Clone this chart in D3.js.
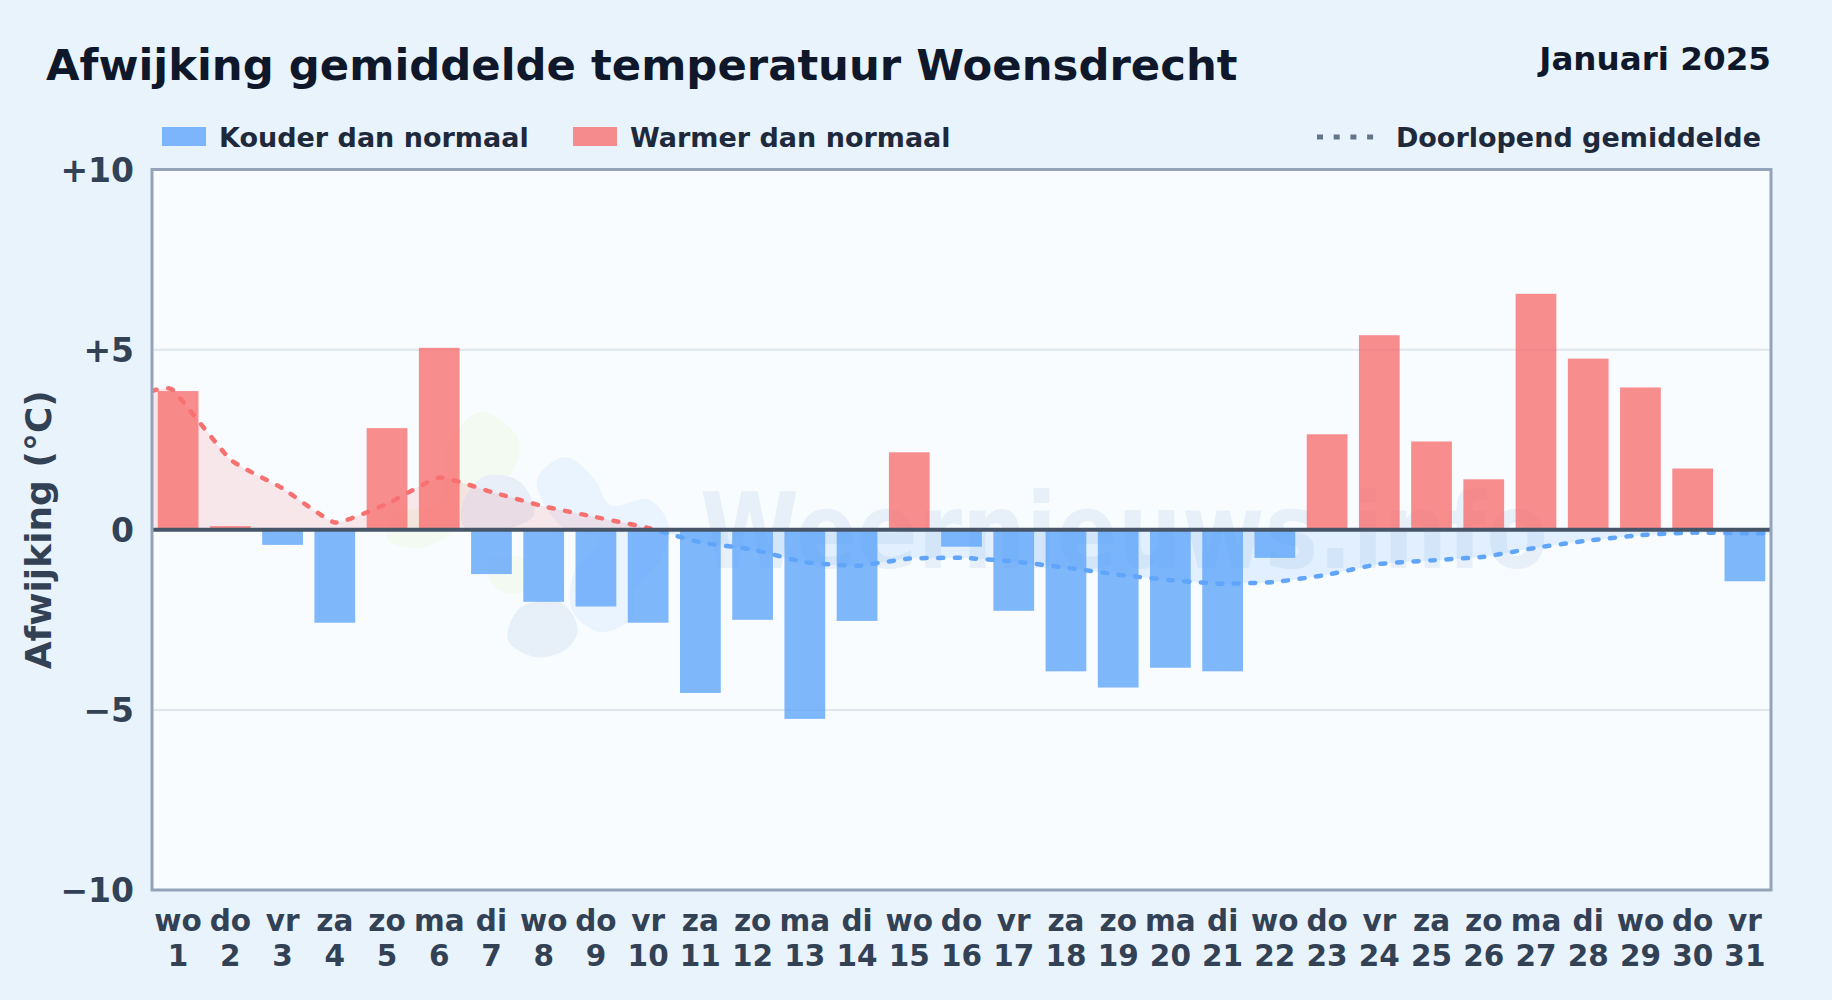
<!DOCTYPE html>
<html>
<head>
<meta charset="utf-8">
<script src="https://cdn.jsdelivr.net/npm/d3@7"></script>
<style>
  html, body { margin: 0; padding: 0; background: #e8f3fc; overflow: hidden; }
  text { font-family: "DejaVu Sans", sans-serif; font-weight: 700; }
</style>
</head>
<body>
<svg id="chart" width="1832" height="1000"></svg>
<script>
const days = d3.range(1, 32);
const weekdays = ['wo','do','vr','za','zo','ma','di','wo','do','vr','za','zo','ma','di','wo','do','vr','za','zo','ma','di','wo','do','vr','za','zo','ma','di','wo','do','vr'];
const deviations = [3.85,0.1,-0.42,-2.58,2.82,5.05,-1.23,-2.0,-2.13,-2.58,-4.53,-2.5,-5.25,-2.53,2.15,-0.47,-2.25,-3.93,-4.38,-3.83,-3.93,-0.78,2.65,5.4,2.45,1.4,6.55,4.75,3.95,1.7,-1.43];
const avgDays = [0.5,0.9,2,3,4,5,6,7,8,9,10,11,12,13,14,15,16,17,18,19,20,21,22,23,24,25,26,27,28,29,30,31,31.5];
const avgValues = [3.85,3.88,1.95,1.15,0.2,0.72,1.45,1.05,0.65,0.35,0.05,-0.35,-0.55,-0.9,-1.0,-0.8,-0.78,-0.88,-1.05,-1.25,-1.4,-1.5,-1.45,-1.25,-0.95,-0.85,-0.75,-0.5,-0.3,-0.15,-0.08,-0.1,-0.1];
const yTicks = [-10,-5,0,5,10];
const yLabels = ['−10','−5','0','+5','+10'];

const margin = { left: 152, right: 1771, top: 169.5, bottom: 890 };
const red = '#f87171';
const blue = '#60a5fa';

const svg = d3.select('#chart');
const defs = svg.append('defs');

const x = d3.scaleBand().domain(days).range([margin.left, margin.right]).paddingInner(0.22).paddingOuter(0.11);
const xLine = d3.scaleLinear().domain([0.5, 31.5]).range([margin.left, margin.right]);
const y = d3.scaleLinear().domain([-10, 10]).range([margin.bottom, margin.top]);

// page and plot background
svg.append('rect').attr('width', 1832).attr('height', 1000).attr('fill', '#e8f3fc');
svg.append('rect')
  .attr('x', margin.left).attr('y', margin.top)
  .attr('width', margin.right - margin.left).attr('height', margin.bottom - margin.top)
  .attr('fill', '#f8fcff');

// watermark
const mark = svg.append('g');
const blob = d3.line().curve(d3.curveCatmullRomClosed);
mark.append('path')
  .attr('d', blob([[446,450],[480,412],[518,438],[512,472],[470,495],[455,530],[420,548],[388,540],[395,515],[440,500]]))
  .attr('fill', '#f3faf1');
mark.append('path')
  .attr('d', blob([[488,560],[525,560],[525,590],[505,593],[490,580]]))
  .attr('fill', '#f3faf1');
mark.append('path')
  .attr('d', blob([[537,480],[565,457],[595,480],[610,505],[650,500],[670,530],[660,560],[635,590],[632,618],[600,632],[572,610],[575,570],[600,540],[560,525]]))
  .attr('fill', '#e9f4fe');
mark.append('path')
  .attr('d', blob([[462,505],[485,476],[520,482],[534,515],[500,530],[465,528]]))
  .attr('fill', '#e8eff8');
mark.append('path')
  .attr('d', blob([[508,640],[520,608],[560,602],[578,630],[565,650],[535,657]]))
  .attr('fill', '#e7f0f9');
mark.append('text')
  .attr('x', 700).attr('y', 568)
  .attr('font-size', 105)
  .attr('textLength', 848).attr('lengthAdjust', 'spacingAndGlyphs')
  .attr('fill', '#dce8f5').attr('fill-opacity', 0.6)
  .text('Weernieuws.info');

// grid
svg.append('g').selectAll('line')
  .data(yTicks.filter(t => Math.abs(t) === 5))
  .join('line')
    .attr('x1', margin.left).attr('x2', margin.right)
    .attr('y1', d => y(d)).attr('y2', d => y(d))
    .attr('stroke', '#dfe6ee').attr('stroke-width', 2);

// bars
svg.append('g').selectAll('rect')
  .data(days)
  .join('rect')
    .attr('x', d => x(d))
    .attr('width', x.bandwidth())
    .attr('y', d => y(Math.max(0, deviations[d - 1])))
    .attr('height', d => Math.abs(y(deviations[d - 1]) - y(0)))
    .attr('fill', d => deviations[d - 1] >= 0 ? red : blue)
    .attr('fill-opacity', 0.8);

// running mean, split at zero
defs.append('clipPath').attr('id', 'above').append('rect')
  .attr('x', margin.left).attr('y', margin.top)
  .attr('width', margin.right - margin.left).attr('height', y(0) - margin.top);
defs.append('clipPath').attr('id', 'below').append('rect')
  .attr('x', margin.left).attr('y', y(0))
  .attr('width', margin.right - margin.left).attr('height', margin.bottom - y(0));

const avgPoints = avgDays.map((d, i) => [d, avgValues[i]]);
const avgCurve = d3.curveCardinal.tension(0.6);
const avgLine = d3.line().x(d => xLine(d[0])).y(d => y(d[1])).curve(avgCurve);
const avgArea = d3.area().x(d => xLine(d[0])).y0(y(0)).y1(d => y(d[1])).curve(avgCurve);

[['above', red], ['below', blue]].forEach(([id, color]) => {
  const g = svg.append('g').attr('clip-path', `url(#${id})`);
  g.append('path').attr('d', avgArea(avgPoints)).attr('fill', color).attr('fill-opacity', 0.15);
  g.append('path').attr('d', avgLine(avgPoints))
    .attr('fill', 'none').attr('stroke', color).attr('stroke-width', 4.5)
    .attr('stroke-linecap', 'round').attr('stroke-dasharray', '5 11.5');
});

// zero line and frame
svg.append('line')
  .attr('x1', margin.left).attr('x2', margin.right)
  .attr('y1', y(0)).attr('y2', y(0))
  .attr('stroke', '#475569').attr('stroke-width', 4);
svg.append('rect')
  .attr('x', margin.left).attr('y', margin.top)
  .attr('width', margin.right - margin.left).attr('height', margin.bottom - margin.top)
  .attr('fill', 'none').attr('stroke', '#94a3b8').attr('stroke-width', 3);

// y axis
const yAxis = d3.axisLeft(y).tickValues(yTicks).tickSize(0).tickPadding(18)
  .tickFormat((d, i) => yLabels[i]);
svg.append('g').attr('transform', `translate(${margin.left},1)`).call(yAxis)
  .call(g => g.select('.domain').remove())
  .selectAll('text')
    .attr('font-size', 33).attr('fill', '#334155').attr('font-family', '"DejaVu Sans", sans-serif');

// x axis, two rows
const xAxis = d3.axisBottom(x).tickSize(0).tickFormat(() => '');
const xg = svg.append('g').attr('transform', `translate(0,${margin.bottom})`).call(xAxis);
xg.select('.domain').remove();
xg.selectAll('.tick').each(function (d) {
  const t = d3.select(this);
  t.selectAll('text').remove();
  t.append('text').attr('y', 41).attr('text-anchor', 'middle').attr('font-size', 29.5).attr('fill', '#334155').text(weekdays[d - 1]);
  t.append('text').attr('y', 76).attr('text-anchor', 'middle').attr('font-size', 29.5).attr('fill', '#334155').text(d);
});

// axis title
svg.append('text')
  .attr('transform', `translate(51,${y(0)}) rotate(-90)`)
  .attr('text-anchor', 'middle').attr('font-size', 36).attr('fill', '#334155')
  .text('Afwijking (°C)');

// titles
svg.append('text').attr('x', 46).attr('y', 80).attr('font-size', 43.35).attr('fill', '#0f172a')
  .text('Afwijking gemiddelde temperatuur Woensdrecht');
svg.append('text').attr('x', 1771).attr('y', 70).attr('text-anchor', 'end').attr('font-size', 32.6).attr('fill', '#0f172a')
  .text('Januari 2025');

// legend
const legendBars = [
  { label: 'Kouder dan normaal', color: blue, x: 162 },
  { label: 'Warmer dan normaal', color: red, x: 573 }
];
legendBars.forEach(l => {
  svg.append('rect').attr('x', l.x).attr('y', 127).attr('width', 44).attr('height', 19)
    .attr('fill', l.color).attr('fill-opacity', 0.8);
  svg.append('text').attr('x', l.x + 57).attr('y', 147).attr('font-size', 27).attr('fill', '#1e293b').text(l.label);
});
svg.append('line').attr('x1', 1317).attr('x2', 1375).attr('y1', 137).attr('y2', 137)
  .attr('stroke', '#64748b').attr('stroke-width', 5).attr('stroke-dasharray', '6 10.7');
svg.append('text').attr('x', 1761).attr('y', 147).attr('text-anchor', 'end').attr('font-size', 27).attr('fill', '#1e293b')
  .text('Doorlopend gemiddelde');
</script>
</body>
</html>
